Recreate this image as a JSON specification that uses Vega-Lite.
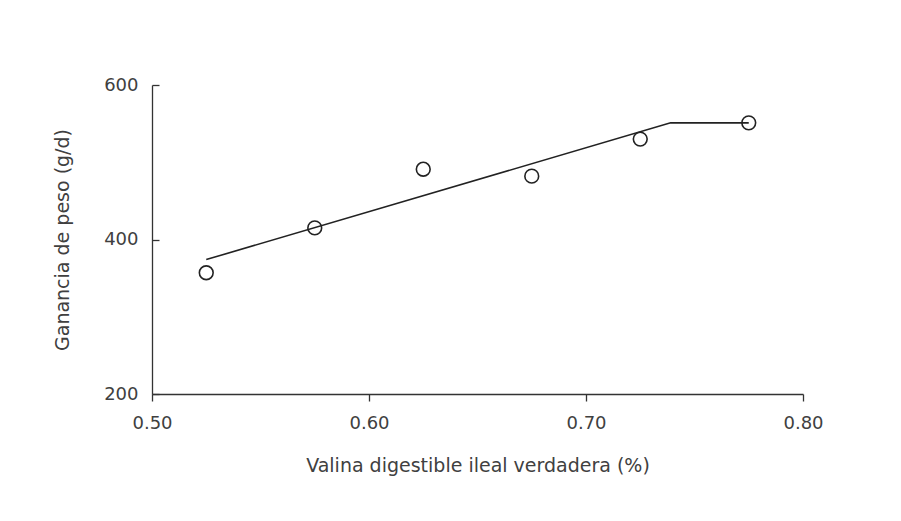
{
  "$schema": "https://vega.github.io/schema/vega-lite/v6.json",
  "autosize": {"type": "none"},
  "width": 651,
  "height": 309,
  "padding": {"left": 152, "top": 85, "right": 98, "bottom": 127},
  "background": "white",
  "config": {
    "view": {"stroke": null},
    "axis": {
      "grid": false,
      "domainColor": "#333333",
      "domainWidth": 1.3,
      "tickColor": "#333333",
      "tickWidth": 1.3,
      "labelFont": "DejaVu Sans",
      "labelFontSize": 18,
      "labelColor": "#404040",
      "titleFont": "DejaVu Sans",
      "titleFontSize": 19,
      "titleFontWeight": "normal",
      "titleColor": "#404040"
    }
  },
  "datasets": {
    "obs": [
      {"valina": 0.525, "ganancia": 357},
      {"valina": 0.575, "ganancia": 415},
      {"valina": 0.625, "ganancia": 491},
      {"valina": 0.675, "ganancia": 482},
      {"valina": 0.725, "ganancia": 530},
      {"valina": 0.775, "ganancia": 551}
    ],
    "ajuste": [
      {"valina": 0.525, "ganancia": 374},
      {"valina": 0.739, "ganancia": 551},
      {"valina": 0.775, "ganancia": 551}
    ]
  },
  "layer": [
    {
      "data": {"name": "ajuste"},
      "mark": {"type": "line", "color": "#222222", "strokeWidth": 1.6},
      "encoding": {
        "x": {
          "field": "valina", "type": "quantitative",
          "scale": {"domain": [0.5, 0.8], "nice": false, "zero": false},
          "axis": {
            "title": "Valina digestible ileal verdadera (%)",
            "values": [0.5, 0.6, 0.7, 0.8],
            "format": ".2f",
            "tickSize": 7,
            "labelPadding": 13,
            "titlePadding": 24,
            "labelFlush": false
          }
        },
        "y": {
          "field": "ganancia", "type": "quantitative",
          "scale": {"domain": [200, 600], "nice": false, "zero": false},
          "axis": {
            "title": "Ganancia de peso (g/d)",
            "values": [200, 400, 600],
            "tickSize": -7,
            "labelPadding": 21,
            "titlePadding": 31,
            "labelFlush": false
          }
        }
      }
    },
    {
      "data": {"name": "obs"},
      "mark": {"type": "point", "shape": "circle", "filled": false, "color": "#222222", "strokeWidth": 1.6, "size": 190, "opacity": 1},
      "encoding": {
        "x": {"field": "valina", "type": "quantitative"},
        "y": {"field": "ganancia", "type": "quantitative"}
      }
    }
  ]
}
